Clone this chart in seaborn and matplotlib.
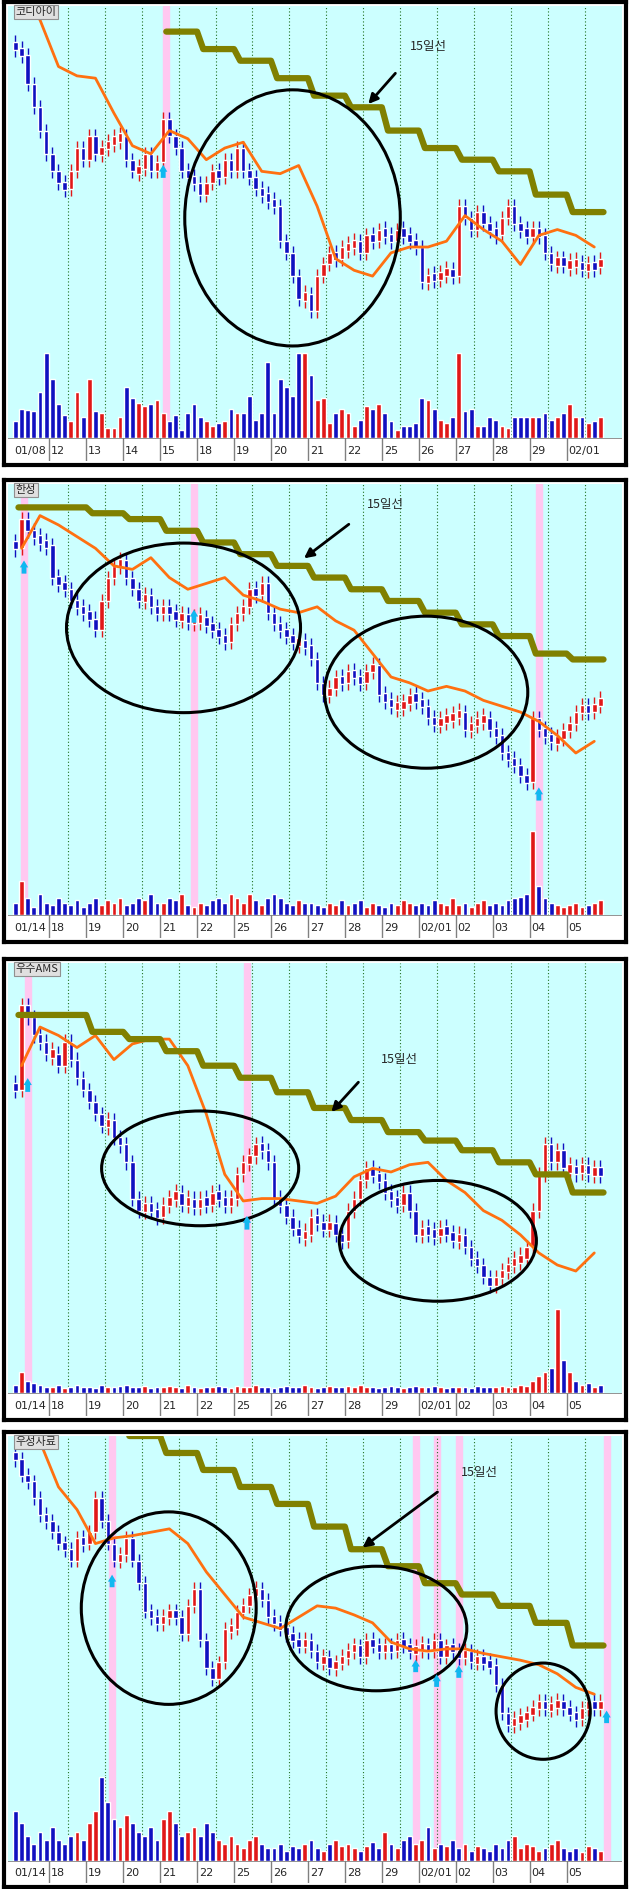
import numpy as np
import pandas as pd
import matplotlib
matplotlib.use("Agg")
import matplotlib.pyplot as plt
import seaborn as sns
from matplotlib.patches import Ellipse

sns.set_style("white")
plt.rcParams['font.family'] = ['Noto Sans CJK KR', 'DejaVu Sans']

# ---------------- data ----------------
titles = ["코디아이", "한성", "우수AMS", "우성사료"]
days1 = ["01/08", "12", "13", "14", "15", "18", "19", "20", "21", "22", "25", "26", "27", "28", "29", "02/01"]
days2 = ["01/14", "18", "19", "20", "21", "22", "25", "26", "27", "28", "29", "02/01", "02", "03", "04", "05"]

close1 = [255,250,225,205,185,165, 150,140,135,150,170,160, 180,165,170,175,178,180,
          160,150,152,165,150,158, 195,180,170,150,145,140, 130,140,150,145,160,150,
          170,150,145,135,130,125, 120,90,80,60,40,45, 30,60,70,80,75,85,
          85,90,80,95,90,100, 95,90,100,95,90,85, 55,60,58,62,65,60,
          120,110,100,115,105,100, 95,110,120,105,100,95, 100,95,80,70,75,70,
          70,72,65,70,68,75]
close2 = [240,265,255,250,245,243, 215,210,205,195,190,185, 180,170,195,215,225,230,
          215,205,195,200,190,185, 190,185,180,183,177,180, 180,175,170,165,160,175,
          185,190,205,200,210,185, 175,170,165,160,160,157, 145,125,115,120,130,125,
          135,130,125,135,140,115, 110,105,105,107,115,110, 105,95,90,93,95,97,
          100,85,90,93,95,85, 80,65,60,55,45,40, 95,85,80,75,77,85,
          90,100,105,100,107,110]
close3 = [180,250,240,225,220,210, 210,200,220,205,190,180, 170,160,150,155,140,135,
          120,90,80,85,80,75, 85,90,95,85,90,82, 90,85,95,90,85,90,
          110,120,125,135,130,120, 90,85,75,65,60,60, 75,70,65,70,60,55,
          80,90,105,115,110,105, 95,90,85,95,80,60, 65,62,60,65,62,55,
          60,50,40,35,25,18, 25,30,35,40,40,50, 80,110,135,120,130,115,
          115,112,118,110,115,110]
close4 = [280,265,260,245,230,225, 215,205,200,190,210,205, 215,245,225,205,190,195,
          210,190,170,145,140,135, 140,145,140,125,150,165, 120,95,85,100,130,130,
          145,150,160,165,155,140, 135,130,125,120,115,120, 110,100,105,95,100,105,
          110,115,105,120,115,110, 115,110,120,115,110,112, 115,110,120,105,115,110,
          105,110,100,105,100,98, 80,55,45,50,50,55, 60,65,60,62,65,60,
          55,50,60,65,60,65]

vol1 = [20,35,33,32,55,100, 70,40,28,20,55,25, 70,32,30,12,12,25, 60,48,42,38,40,45,
        30,20,28,10,30,40, 25,20,15,18,20,35, 30,30,50,22,30,90, 30,70,60,50,100,100,
        75,45,48,18,30,35, 30,15,22,38,35,40, 30,20,10,15,15,18, 48,45,35,22,18,25,
        100,32,35,15,15,25, 22,15,12,25,25,25, 25,25,30,22,25,30, 40,25,25,18,20,25]
vol2 = [15,40,20,10,25,15, 12,20,15,12,18,10, 15,20,12,18,15,20, 12,15,20,18,25,15,
        15,20,18,25,12,10, 15,12,18,20,15,25, 20,15,25,18,12,20, 25,20,15,12,18,15,
        15,12,10,15,12,18, 12,15,18,10,15,12, 10,15,12,18,15,12, 15,12,18,15,12,20,
        12,15,10,15,18,12, 15,12,18,20,22,25, 100,35,20,15,12,10, 12,15,10,12,15,18]
vol3 = [10,25,15,12,10,8, 8,10,6,8,10,7, 8,6,10,8,7,9, 10,8,7,9,6,8,
        7,9,8,6,10,8, 6,8,7,9,8,6, 9,7,8,10,8,7, 6,8,9,7,8,10,
        8,6,7,9,8,7, 9,8,10,7,8,6, 7,9,8,6,8,9, 8,7,9,8,6,8,
        7,8,6,9,7,8, 8,9,7,8,10,9, 15,20,25,30,100,40, 25,15,10,12,8,10]
vol4 = [60,45,30,20,35,25, 40,25,20,30,35,25, 45,60,100,70,50,40, 55,45,35,30,40,25,
        50,60,45,30,35,40, 30,45,35,25,20,30, 20,15,25,30,20,15, 15,20,12,18,15,20,
        25,15,12,20,25,18, 20,15,12,18,22,15, 35,20,15,25,30,20, 25,40,15,20,18,25,
        15,20,12,18,15,12, 20,15,25,30,15,20, 18,12,15,20,25,15, 12,15,10,18,15,12]

# orange average line, two readings per day
ma1 = [300,280, 240,232, 230,200, 172,165, 185,178, 160,170, 175,150, 148,155,
       120,75, 65,60, 80,85, 85,90, 112,100, 90,70, 95,100, 95,85]
ma2 = [240,268, 260,250, 240,225, 222,232, 215,205, 210,215, 200,195, 188,185,
       190,178, 170,150, 130,125, 118,122, 118,110, 105,100, 92,80, 65,75]
ma3 = [200,232, 225,215, 225,205, 218,222, 222,200, 160,110, 88,90, 90,88,
       86,92, 108,115, 112,118, 120,105, 95,80, 72,60, 45,35, 30,45]
ma4 = [None,295, 255,235, 205,210, 212,215, 218,205, 180,160, 140,135, 130,140,
       150,148, 142,135, 118,112, 110,112, 112,108, 105,102, 98,90, 78,72]

line15_1 = [None,None,None,None,270,255,245,230,215,205,185,170,160,150,130,115]
line15_2 = [275,275,270,265,255,245,235,225,215,205,195,185,175,165,150,145]
line15_3 = [242,242,228,222,212,200,190,178,165,155,145,138,130,120,110,95]
line15_4 = [None,None,None,300,285,270,255,240,220,200,185,170,160,150,135,115]

# ---------------- style/layout ----------------
RED, BLUE = "#e01818", "#1010c0"
BG = "#ccffff"
W, H = 630, 1889
panels = [
    dict(top=2, bot=465, title=titles[0], days=days1, close=close1, vol=vol1, ma=ma1, l15=line15_1,
         ylim=(-5, 292), pink=[24.5], arrows=[(24, 148)],
         ells=[(45, 110, 35, 220)], ann=((64, 252), (62, 236), (57, 206))),
    dict(top=480, bot=942, title=titles[1], days=days2, close=close2, vol=vol2, ma=ma2, l15=line15_2,
         ylim=(0, 295), pink=[1.4, 29, 85], arrows=[(1.4, 222), (29, 180), (85, 28)],
         ells=[(27.3, 172, 38, 145), (66.7, 117, 33, 130)], ann=((57, 272), (54.5, 262), (46.5, 230))),
    dict(top=959, bot=1420, title=titles[2], days=days2, close=close3, vol=vol3, ma=ma3, l15=line15_3,
         ylim=(0, 285), pink=[2, 37.6], arrows=[(2, 182), (37.6, 68)],
         ells=[(30, 115, 32, 95), (68.6, 55, 32, 100)], ann=((59.4, 200), (56, 188), (51, 160))),
    dict(top=1432, bot=1887, title=titles[3], days=days2, close=close4, vol=vol4, ma=ma4, l15=line15_4,
         ylim=(0, 300), pink=[15.7, 65, 68.4, 72, 96], arrows=[(15.7, 170), (65, 95), (68.4, 82), (72, 90), (96, 50)],
         ells=[(24.9, 148, 28.4, 170), (58.6, 130, 29.4, 110), (85.7, 57, 15.3, 85)], ann=((72.3, 262), (68.9, 252), (56, 200))),
]

fig = plt.figure(figsize=(W / 100, H / 100), dpi=100)
fig.patch.set_facecolor("white")

def fr(x0, y0, x1, y1):
    return [x0 / W, 1 - y1 / H, (x1 - x0) / W, (y1 - y0) / H]

L, R = 8, 622
MINB = 7
for P in panels:
    top, bot = P["top"], P["bot"]
    inner = bot - top - 8
    ptop = top + 4
    pbot = ptop + inner * 0.76
    vbot = pbot + inner * 0.19
    dbot = bot - 4
    n = len(P["close"])
    xlim = (-1.2, n + 2.5)

    close = np.array(P["close"], float)
    opn = np.r_[close[0] + 5, close[:-1]]
    up = close >= opn
    cols = np.where(up, RED, BLUE)
    lo = np.minimum(opn, close)
    hi = np.maximum(opn, close)
    mid = (lo + hi) / 2
    small = (hi - lo) < MINB
    blo = np.where(small, mid - MINB / 2, lo)
    bhi = np.where(small, mid + MINB / 2, hi)
    x = np.arange(n)
    daystarts = np.arange(0, n, 6) - 0.5

    # price axes
    ax = fig.add_axes(fr(L, ptop, R, pbot))
    ax.set_facecolor(BG)
    for d in daystarts[1:]:
        ax.axvline(d + 3, color="#207020", lw=0.8, ls=(0, (1, 2)))
    for p in P["pink"]:
        ax.axvspan(p - 0.5, p + 0.5, color="#ffc8f0", zorder=0.5)
    ax.vlines(x, blo - 6, bhi + 6, colors=cols, lw=1, zorder=2)
    ax.bar(x, bhi - blo, bottom=blo, width=0.72, color=cols, zorder=3)
    mvals = np.array([np.nan if v is None else v for v in P["ma"]], float)
    mx = np.arange(len(mvals)) * 3 + 1.0
    ok = ~np.isnan(mvals)
    sns.lineplot(x=mx[ok], y=mvals[ok], ax=ax, color="#ff7010", lw=2, zorder=4)
    sx, sy = [], []
    for k, lev in enumerate(P["l15"]):
        if lev is None:
            continue
        sx += [k * 6 + 0.5, k * 6 + 5.5]
        sy += [lev, lev]
    sns.lineplot(x=sx, y=sy, ax=ax, color="#808000", lw=4.5, zorder=4, sort=False)
    for (ex, ey, ew, eh) in P["ells"]:
        ax.add_patch(Ellipse((ex, ey), ew, eh, fill=False, ec="black", lw=2.2, zorder=6))
    for (axx, ayy) in P["arrows"]:
        ax.annotate("", xy=(axx, ayy + 10), xytext=(axx, ayy - 6),
                    arrowprops=dict(arrowstyle="simple,head_width=0.6,head_length=0.5,tail_width=0.35",
                                    color="#10b8f0", lw=0), zorder=6)
    (tx, ty), (a0x, a0y), (a1x, a1y) = P["ann"]
    ax.text(tx, ty, "15일선", fontsize=9, ha="left", va="bottom", zorder=7)
    ax.annotate("", xy=(a1x, a1y), xytext=(a0x, a0y),
                arrowprops=dict(arrowstyle="-|>", color="black", lw=2, mutation_scale=14), zorder=7)
    ax.text(0.012, 0.997, P["title"], transform=ax.transAxes, fontsize=8, va="top", ha="left", zorder=8,
            bbox=dict(boxstyle="square,pad=0.15", fc="#e0e0e0", ec="#909090", lw=0.8))
    ax.set_xlim(*xlim)
    ax.set_ylim(*P["ylim"])
    ax.set_xticks([]); ax.set_yticks([])
    for s in ax.spines.values():
        s.set_visible(False)

    # volume axes
    av = fig.add_axes(fr(L, pbot, R, vbot))
    av.set_facecolor(BG)
    for d in daystarts[1:]:
        av.axvline(d + 3, color="#207020", lw=0.8, ls=(0, (1, 2)))
    for p in P["pink"]:
        av.axvspan(p - 0.5, p + 0.5, color="#ffc8f0", zorder=0.5)
    av.bar(x, P["vol"], width=0.78, color=cols, zorder=3)
    av.set_xlim(*xlim); av.set_ylim(0, 102)
    av.set_xticks([]); av.set_yticks([])
    for s in av.spines.values():
        s.set_visible(False)

    # date strip
    ad = fig.add_axes(fr(L, vbot, R, dbot))
    ad.set_facecolor("white")
    ad.set_xlim(*xlim); ad.set_ylim(0, 1)
    for k, lab in enumerate(P["days"]):
        xs = daystarts[k]
        if k > 0:
            ad.axvline(xs, color="#808080", lw=1)
        ad.text(xs + 0.3, 0.45, lab, fontsize=8, va="center", ha="left", family="DejaVu Sans")
    ad.axhline(1, color="#808080", lw=1.2)
    ad.set_xticks([]); ad.set_yticks([])
    for s in ad.spines.values():
        s.set_visible(False)

    # frame
    fa = fig.add_axes(fr(L - 4, top, R + 4, bot))
    fa.patch.set_alpha(0)
    fa.set_xticks([]); fa.set_yticks([])
    for s in fa.spines.values():
        s.set_linewidth(3); s.set_color("black")

fig.savefig("out.png", dpi=100)
